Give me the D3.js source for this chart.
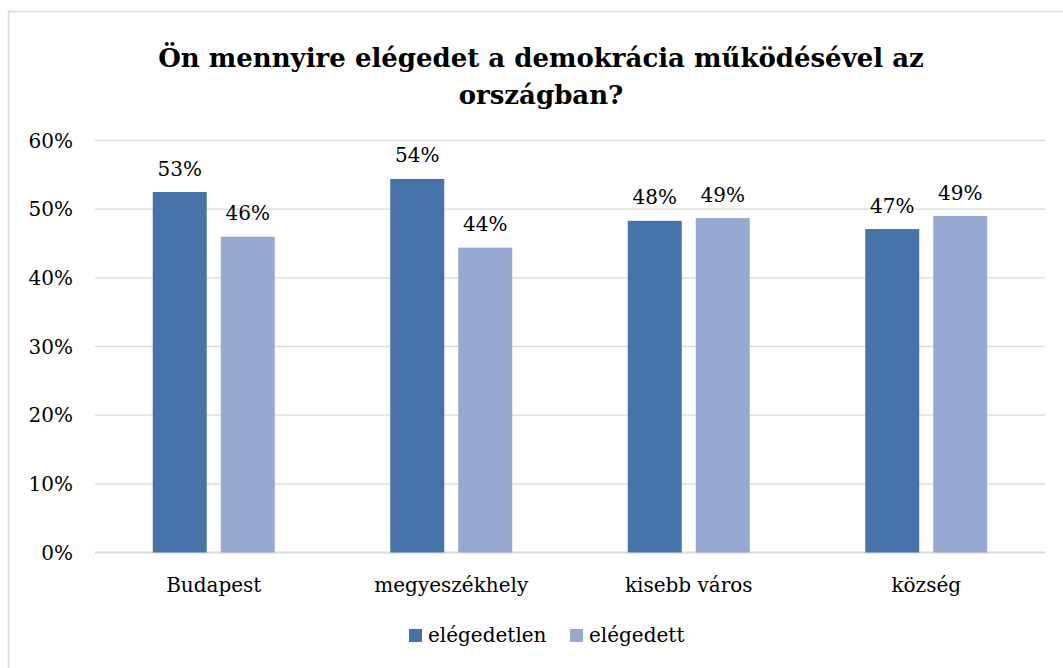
<!DOCTYPE html>
<html>
<head>
<meta charset="utf-8">
<script src="https://cdn.jsdelivr.net/npm/d3@7"></script>
<style>
  body { margin: 0; background: #fff; }
  text { font-family: "DejaVu Serif", serif; fill: #000; }
</style>
</head>
<body>
<svg width="1063" height="668"></svg>
<script>
// chart data
var categories = ["Budapest", "megyeszékhely", "kisebb város", "község"];
var seriesNames = ["elégedetlen", "elégedett"];
var elegedetlen = [0.525, 0.544, 0.483, 0.471];
var elegedett = [0.460, 0.444, 0.487, 0.490];
var yTicks = [0, 0.1, 0.2, 0.3, 0.4, 0.5, 0.6];
var titleLines = ["Ön mennyire elégedet a demokrácia működésével az", "országban?"];

var colors = ["#4673a8", "#95a9d1"];
var series = [elegedetlen, elegedett];

var svg = d3.select("svg"),
    pct = d3.format(".0%");

// chart frame
svg.append("rect")
    .attr("x", 8.5).attr("y", 11.5)
    .attr("width", 1100).attr("height", 700)
    .attr("fill", "none")
    .attr("stroke", "#d9d9d9")
    .attr("stroke-width", 1.5);

var x0 = d3.scaleBand().domain(categories).range([95, 1045])
    .paddingInner(0.4863).paddingOuter(0.24315);
var x1 = d3.scaleBand().domain(seriesNames).range([0, x0.bandwidth()])
    .paddingInner(0.2059);
var y = d3.scaleLinear().domain([0, 0.6]).range([552.5, 140.5]);

// title
svg.append("text")
    .attr("text-anchor", "middle")
    .attr("font-weight", "bold")
    .attr("font-size", 26)
    .selectAll("tspan")
    .data(titleLines)
    .enter().append("tspan")
    .attr("x", 541)
    .attr("y", function (d, i) { return 67 + i * 37; })
    .text(function (d) { return d; });

// grid lines
svg.append("g").selectAll("line")
    .data(yTicks)
    .enter().append("line")
    .attr("x1", 95).attr("x2", 1045)
    .attr("y1", function (d) { return y(d); })
    .attr("y2", function (d) { return y(d); })
    .attr("stroke", "#d9d9d9")
    .attr("stroke-width", function (d) { return d === 0 ? 2 : 1.3; });

// y tick labels
svg.append("g").selectAll("text")
    .data(yTicks)
    .enter().append("text")
    .attr("x", 73)
    .attr("y", function (d) { return y(d); })
    .attr("dy", "0.35em")
    .attr("text-anchor", "end")
    .attr("font-size", 20)
    .text(function (d) { return pct(d); });

// bars
var groups = svg.append("g").selectAll("g")
    .data(categories)
    .enter().append("g")
    .attr("transform", function (d) { return "translate(" + x0(d) + ",0)"; });

groups.each(function (c, ci) {
    var g = d3.select(this);
    var vals = seriesNames.map(function (s, si) { return {s: s, si: si, v: series[si][ci]}; });
    g.selectAll("rect")
        .data(vals)
        .enter().append("rect")
        .attr("x", function (d) { return x1(d.s); })
        .attr("y", function (d) { return y(d.v); })
        .attr("width", x1.bandwidth())
        .attr("height", function (d) { return y(0) - y(d.v); })
        .attr("fill", function (d) { return colors[d.si]; });
    g.selectAll("text")
        .data(vals)
        .enter().append("text")
        .attr("x", function (d) { return x1(d.s) + x1.bandwidth() / 2; })
        .attr("y", function (d) { return y(d.v) - 16.5; })
        .attr("text-anchor", "middle")
        .attr("font-size", 20)
        .text(function (d) { return pct(d.v); });
});

// category labels
svg.append("g").selectAll("text")
    .data(categories)
    .enter().append("text")
    .attr("x", function (d) { return x0(d) + x0.bandwidth() / 2; })
    .attr("y", 592)
    .attr("text-anchor", "middle")
    .attr("font-size", 20)
    .text(function (d) { return d; });

// legend
var legendX = [409, 570];
var legend = svg.append("g").selectAll("g")
    .data(seriesNames)
    .enter().append("g")
    .attr("transform", function (d, i) { return "translate(" + legendX[i] + ",629)"; });
legend.append("rect")
    .attr("width", 13).attr("height", 13)
    .attr("fill", function (d, i) { return colors[i]; });
legend.append("text")
    .attr("x", 19).attr("y", 13)
    .attr("font-size", 20)
    .text(function (d) { return d; });
</script>
</body>
</html>
